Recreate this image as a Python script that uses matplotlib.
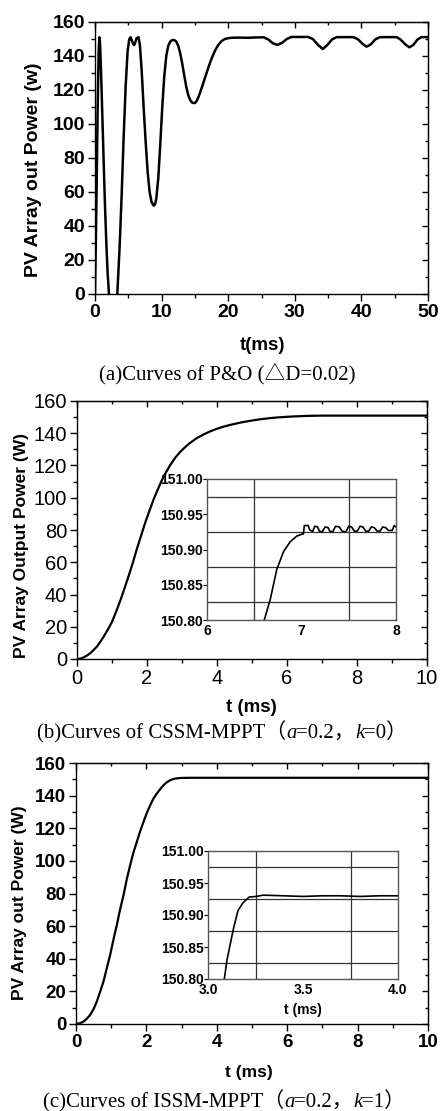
import matplotlib
matplotlib.use("Agg")
import matplotlib.pyplot as plt
from matplotlib.ticker import MultipleLocator, FormatStrFormatter

# ---------------- data ----------------
# (a) P&O
t_a = [0.0, 0.2, 0.4, 0.55, 0.65, 0.75, 0.9, 1.1, 1.3, 1.5, 1.7, 1.9, 2.1, 2.4, 2.7, 3.0, 3.35,
       3.7, 4.0, 4.3, 4.6, 4.9, 5.15, 5.35, 5.55, 5.75, 5.9, 6.05, 6.25, 6.55, 6.75, 7.0, 7.3,
       7.6, 7.9, 8.2, 8.5, 8.8, 9.0, 9.2, 9.5, 9.8, 10.1, 10.4, 10.7, 11.0, 11.3, 11.6, 11.9,
       12.2, 12.5, 12.8, 13.1, 13.4, 13.7, 14.0, 14.3, 14.6, 14.85, 15.05, 15.3, 15.6, 16.0,
       16.5, 17.0, 17.5, 18.0, 18.5, 19.0, 19.5, 20.0, 20.5, 21.0, 22.0, 23.0, 24.0, 25.3,
       26.0, 26.7, 27.4, 28.1, 28.8, 29.5, 32.0, 32.7, 33.5, 34.2, 34.9, 35.6, 36.3, 38.8,
       39.5, 40.2, 40.8, 41.4, 42.1, 42.8, 45.3, 45.9, 46.6, 47.2, 47.8, 48.4, 49.0, 50.0]
p_a = [0, 50, 110, 142, 151, 148, 132, 105, 78, 52, 30, 12, 0, -22, -30, -20, 0,
       28, 58, 92, 122, 143, 150, 151, 149, 147, 146.5, 148, 150.5, 151, 146, 132, 110,
       90, 72, 60, 54, 52, 52.5, 56, 68, 88, 110, 128, 140, 146, 148.5, 149.4, 149.4,
       148.5, 146, 141.5, 135.5, 128.5, 122, 117, 114, 112.5, 112.3, 112.5, 113.8, 116.5, 121,
       127, 133, 138.5, 143, 146.5, 148.8, 150, 150.5, 150.7, 150.8, 150.8, 150.7, 150.9, 151,
       149.8, 147.5, 146.5, 147.8, 150, 151.2, 151.2, 150, 146.5, 144.1, 146.5, 149.8, 151.1, 151.1,
       149.8, 147, 145.5, 146.8, 149.8, 151.1, 151.1, 149.6, 146.8, 145.1, 146.5, 149.6, 151.1, 151.1]

# (b) CSSM-MPPT
t_b = [0.0, 0.1, 0.19, 0.28, 0.38, 0.47, 0.57, 0.66, 0.76, 0.88, 1.0, 1.12, 1.24, 1.36,
       1.48, 1.6, 1.71, 1.83, 1.95, 2.07, 2.19, 2.31, 2.43, 2.55, 2.67, 2.81, 2.95, 3.1,
       3.24, 3.43, 3.62, 3.81, 4.0, 4.19, 4.38, 4.69, 5.0, 5.25, 5.5, 5.75, 6.0, 6.25,
       6.5, 6.75, 7.0, 8.0, 9.0, 10.0]
p_b = [0, 0.3, 1, 2.1, 3.6, 5.5, 7.7, 10.5, 13.8, 18.2, 23, 29.5, 36.4, 44,
       51.8, 60, 68.2, 76.4, 84.6, 92, 99, 105.3, 111.1, 116.1, 120.5, 124.9, 128.5, 131.6,
       134.2, 137.1, 139.3, 141.2, 142.8, 144.1, 145.2, 146.7, 147.9, 148.7, 149.35, 149.85, 150.2,
       150.48, 150.7, 150.85, 150.93, 150.93, 150.93, 150.93]

# inset (b)
t_bi = [6.52, 6.606, 6.669, 6.739, 6.81, 6.88, 6.95, 7.01, 7.02, 7.03, 7.07, 7.09, 7.12, 7.14,
        7.17, 7.19, 7.22, 7.25, 7.28, 7.30, 7.33, 7.36, 7.40, 7.43, 7.47, 7.50, 7.53, 7.56,
        7.59, 7.62, 7.65, 7.68, 7.71, 7.74, 7.77, 7.80, 7.83, 7.86, 7.89, 7.92, 7.96, 7.98, 8.0]
p_bi = [150.76, 150.80, 150.829, 150.872, 150.897, 150.911, 150.919, 150.922, 150.922, 150.934,
        150.934, 150.927, 150.926, 150.933, 150.932, 150.926, 150.925, 150.932, 150.931, 150.926,
        150.925, 150.933, 150.932, 150.926, 150.925, 150.933, 150.932, 150.926, 150.926, 150.933,
        150.932, 150.926, 150.926, 150.932, 150.931, 150.926, 150.926, 150.932, 150.931, 150.927,
        150.927, 150.934, 150.932]

# (c) ISSM-MPPT
t_c = [0.0, 0.1, 0.21, 0.3, 0.4, 0.5, 0.59, 0.68, 0.78, 0.87, 0.97, 1.06, 1.16, 1.25,
       1.35, 1.44, 1.54, 1.63, 1.73, 1.82, 1.92, 2.01, 2.11, 2.2, 2.3, 2.4, 2.49, 2.58,
       2.68, 2.8, 2.96, 3.1, 3.3, 4.0, 6.0, 8.0, 10.0]
p_c = [0, 0.4, 1.4, 3.1, 5.5, 9.2, 13.7, 19.4, 26, 33.8, 42.3, 51.4, 60.7, 70,
       79, 88.5, 97.5, 105, 111.8, 118, 124, 129.3, 134.2, 138.2, 141.4, 144.2, 146.5, 148.2,
       149.5, 150.4, 150.8, 150.9, 150.93, 150.93, 150.93, 150.93, 150.93]

# inset (c)
t_ci = [3.07, 3.086, 3.10, 3.114, 3.135, 3.158, 3.184, 3.216, 3.254, 3.29, 3.4, 3.5, 3.6, 3.7,
        3.8, 3.9, 4.0]
p_ci = [150.78, 150.80, 150.83, 150.85, 150.88, 150.907, 150.919, 150.928, 150.929, 150.931,
        150.930, 150.929, 150.930, 150.930, 150.929, 150.930, 150.930]

captions = ["(a)Curves of P&O (△D=0.02)",
            "(b)Curves of CSSM-MPPT（a=0.2，k=0）",
            "(c)Curves of ISSM-MPPT（a=0.2，k=1）"]

# ---------------- figure ----------------
W, H = 440, 1111
fig = plt.figure(figsize=(W / 100, H / 100), dpi=100)
SANS = "Liberation Sans"
SERIF = ["Liberation Serif", "Noto Sans CJK SC"]


def rect(l, t, r, b):
    return [l / W, 1 - b / H, (r - l) / W, (b - t) / H]


def style_main(ax, xmaj, xmin, ymaj, ymin, size, weight):
    ax.xaxis.set_major_locator(MultipleLocator(xmaj))
    ax.xaxis.set_minor_locator(MultipleLocator(xmin))
    ax.yaxis.set_major_locator(MultipleLocator(ymaj))
    ax.yaxis.set_minor_locator(MultipleLocator(ymin))
    ax.tick_params(which="both", direction="out", width=1, colors="black",
                   labelsize=size, pad=2)
    ax.tick_params(which="major", length=5)
    ax.tick_params(which="minor", length=3)
    for lab in ax.get_xticklabels() + ax.get_yticklabels():
        lab.set_fontfamily(SANS)
        lab.set_fontweight(weight)
    for s in ax.spines.values():
        s.set_linewidth(1.0)
    # mirrored inward ticks on top / right
    sx = ax.secondary_xaxis("top")
    sx.xaxis.set_major_locator(MultipleLocator(xmaj))
    sx.xaxis.set_minor_locator(MultipleLocator(xmin))
    sx.tick_params(which="both", direction="in", labeltop=False, width=1)
    sx.tick_params(which="major", length=4)
    sx.tick_params(which="minor", length=2.5)
    sy = ax.secondary_yaxis("right")
    sy.yaxis.set_major_locator(MultipleLocator(ymaj))
    sy.yaxis.set_minor_locator(MultipleLocator(ymin))
    sy.tick_params(which="both", direction="in", labelright=False, width=1)
    sy.tick_params(which="major", length=4)
    sy.tick_params(which="minor", length=2.5)


def style_inset(ax, xlim, xticks, xminor, xfmt):
    ax.set_xlim(*xlim)
    ax.set_ylim(150.80, 151.00)
    ax.set_xticks(xticks)
    ax.xaxis.set_minor_locator(MultipleLocator(xminor))
    ax.xaxis.set_major_formatter(FormatStrFormatter(xfmt))
    ax.set_yticks([150.80, 150.85, 150.90, 150.95, 151.00])
    ax.yaxis.set_minor_locator(MultipleLocator(0.025))
    ax.yaxis.set_major_formatter(FormatStrFormatter("%.2f"))
    ax.grid(which="minor", color="#333333", linewidth=0.9)
    ax.grid(which="major", visible=False)
    ax.tick_params(which="minor", length=0)
    ax.tick_params(axis="y", which="major", length=3, width=0.8, pad=0, labelsize=10,
                   colors="black")
    ax.tick_params(axis="x", which="major", length=0, pad=3, labelsize=10)
    for lab in ax.get_xticklabels() + ax.get_yticklabels():
        lab.set_fontfamily(SANS)
        lab.set_fontweight("bold")
    for s in ax.spines.values():
        s.set_color("#555555")
        s.set_linewidth(1.0)
    ax.set_facecolor("white")


def ftext(x, y, s, **kw):
    return fig.text(x / W, 1 - y / H, s, **kw)


# ---- panel a ----
axa = fig.add_axes(rect(95, 22, 428, 294))
axa.plot(t_a, p_a, color="black", lw=1.8, solid_joinstyle="round")
axa.set_xlim(0, 50)
axa.set_ylim(0, 160)
style_main(axa, 10, 5, 20, 10, 14, "bold")
ftext(34, 170, "PV Array out Power (w)", rotation=90, ha="center", va="center",
      family=SANS, weight="bold", size=14)
ftext(262, 345, "t(ms)", ha="center", va="center", family=SANS, weight="bold", size=13.5)

# ---- panel b ----
axb = fig.add_axes(rect(77, 401, 427, 659))
axb.plot(t_b, p_b, color="black", lw=1.6)
axb.set_xlim(0, 10)
axb.set_ylim(0, 160)
style_main(axb, 2, 1, 20, 10, 14.5, "normal")
ftext(22, 545, "PV Array Output Power (W)", rotation=90, ha="center", va="center",
      family=SANS, weight="bold", size=12.5)
ftext(251, 708, "t (ms)", ha="center", va="center", family=SANS, weight="bold", size=13.5)

axbi = fig.add_axes(rect(207, 479, 396, 620))
axbi.plot(t_bi, p_bi, color="black", lw=1.2)
style_inset(axbi, (6, 8), [6, 7, 8], 0.5, "%d")

# ---- panel c ----
axc = fig.add_axes(rect(76, 763, 428, 1024))
axc.plot(t_c, p_c, color="black", lw=1.6)
axc.set_xlim(0, 10)
axc.set_ylim(0, 160)
style_main(axc, 2, 1, 20, 10, 13.5, "bold")
ftext(20, 903, "PV Array out Power (W)", rotation=90, ha="center", va="center",
      family=SANS, weight="bold", size=12.5)
ftext(249, 1072, "t (ms)", ha="center", va="center", family=SANS, weight="bold", size=12.5)

axci = fig.add_axes(rect(208, 851, 398, 979))
axci.plot(t_ci, p_ci, color="black", lw=1.2)
style_inset(axci, (3.0, 4.0), [3.0, 3.5, 4.0], 0.25, "%.1f")
ftext(303, 1010, "t (ms)", ha="center", va="center", family=SANS, weight="bold", size=10)


# ---- captions (pieces chained on one baseline) ----
def caption(pieces, xc, yb, size):
    renderer = fig.canvas.get_renderer()
    objs = []
    for s, style in pieces:
        t = fig.text(0, 1 - yb / H, s, family=SERIF, style=style, size=size,
                     ha="left", va="baseline")
        objs.append(t)
    widths = [o.get_window_extent(renderer).width for o in objs]
    total = sum(widths)
    x = xc - total / 2
    for o, w in zip(objs, widths):
        o.set_x(x / W)
        x += w


def split_caption(s):
    # italicise the single-letter parameters a and k that follow the full-width paren / comma
    out = []
    buf = ""
    for i, ch in enumerate(s):
        if ch in "ak" and i > 0 and s[i - 1] in "（，":
            if buf:
                out.append((buf, "normal"))
                buf = ""
            out.append((ch, "italic"))
        else:
            buf += ch
    if buf:
        out.append((buf, "normal"))
    return out


fig.canvas.draw()
caption(split_caption(captions[0]), 227, 379, 15)
caption(split_caption(captions[1]), 222, 738, 15)
caption(split_caption(captions[2]), 224, 1107, 15)

fig.savefig("out.png", dpi=100)
